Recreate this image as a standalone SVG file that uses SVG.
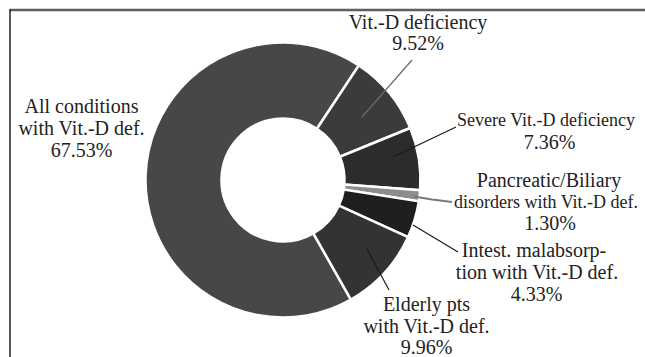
<svg xmlns="http://www.w3.org/2000/svg" width="645" height="357" viewBox="0 0 645 357">
<style>
.lbl{font-family:"Liberation Serif","Times New Roman",serif;font-size:20px;fill:#222;text-anchor:middle}
.narrow{font-size:18px}
.slice{stroke:#fff;stroke-width:2.5;stroke-linejoin:miter}
.lead{fill:none;stroke:#1a1a1a;stroke-width:1.2}
</style>
<rect x="0" y="0" width="645" height="357" fill="#fff"/>
<g id="frame">
<line x1="10" y1="10" x2="645" y2="10" stroke="#5e5e5e" stroke-width="2.5"/>
<line x1="10" y1="9" x2="10" y2="357" stroke="#222" stroke-width="1.5"/>
</g>
<g id="all-conditions">
<path class="slice" fill="#474747" transform="translate(283,180)" d="M67.92,119.55 A137.5,137.5 0 1 1 75.89,-114.66 L33.94,-51.28 A61.5,61.5 0 1 0 30.38,53.47 Z"/>
<text class="lbl" x="81.5" y="113.3">All conditions</text>
<text class="lbl" x="81.5" y="135">with Vit.-D def.</text>
<text class="lbl" x="81.5" y="156.7">67.53%</text>
</g>
<g id="vitd-deficiency">
<path class="slice" fill="#3b3b3b" transform="translate(283,180)" d="M75.89,-114.66 A137.5,137.5 0 0 1 127.28,-52.03 L56.93,-23.27 A61.5,61.5 0 0 0 33.94,-51.28 Z"/>
<text class="lbl" x="418" y="28.5">Vit.-D deficiency</text>
<text class="lbl" x="418" y="50">9.52%</text>
</g>
<g id="severe-vitd-deficiency">
<path class="slice" fill="#2c2c2c" transform="translate(283,180)" d="M127.28,-52.03 A137.5,137.5 0 0 1 137.12,10.24 L61.33,4.58 A61.5,61.5 0 0 0 56.93,-23.27 Z"/>
<text class="lbl narrow" x="546" y="126">Severe Vit.-D deficiency</text>
<text class="lbl" x="549.5" y="148.5">7.36%</text>
</g>
<g id="pancreatic-biliary">
<path class="slice" fill="#8c8c8c" transform="translate(283,180)" d="M137.12,10.24 A137.5,137.5 0 0 1 135.83,21.39 L60.75,9.57 A61.5,61.5 0 0 0 61.33,4.58 Z"/>
<text class="lbl" x="549" y="186.7">Pancreatic/Biliary</text>
<text class="lbl narrow" x="546" y="208">disorders with Vit.-D def.</text>
<text class="lbl" x="550" y="229.5">1.30%</text>
</g>
<g id="intest-malabsorption">
<path class="slice" fill="#1f1f1f" transform="translate(283,180)" d="M135.83,21.39 A137.5,137.5 0 0 1 125.07,57.11 L55.94,25.54 A61.5,61.5 0 0 0 60.75,9.57 Z"/>
<text class="lbl" x="534" y="256.5">Intest. malabsorp-</text>
<text class="lbl" x="537" y="278.5">tion with Vit.-D def.</text>
<text class="lbl" x="536.5" y="301">4.33%</text>
</g>
<g id="elderly-pts">
<path class="slice" fill="#333" transform="translate(283,180)" d="M125.07,57.11 A137.5,137.5 0 0 1 67.92,119.55 L30.38,53.47 A61.5,61.5 0 0 0 55.94,25.54 Z"/>
<text class="lbl" x="426.5" y="311">Elderly pts</text>
<text class="lbl" x="426.5" y="333">with Vit.-D def.</text>
<text class="lbl" x="426.5" y="353.5">9.96%</text>
</g>
<g id="connectors">
<line class="lead" x1="362" y1="117" x2="412" y2="60" style="stroke:#6a6a6a"/>
<line class="lead" x1="393" y1="157" x2="456" y2="127"/>
<polyline class="lead" points="414,196.5 432,199.5 452,202" style="stroke:#7a7a7a;stroke-width:2.2"/>
<line class="lead" x1="413" y1="225" x2="458" y2="252"/>
<line class="lead" x1="367" y1="249" x2="389" y2="290"/>
</g>
</svg>
